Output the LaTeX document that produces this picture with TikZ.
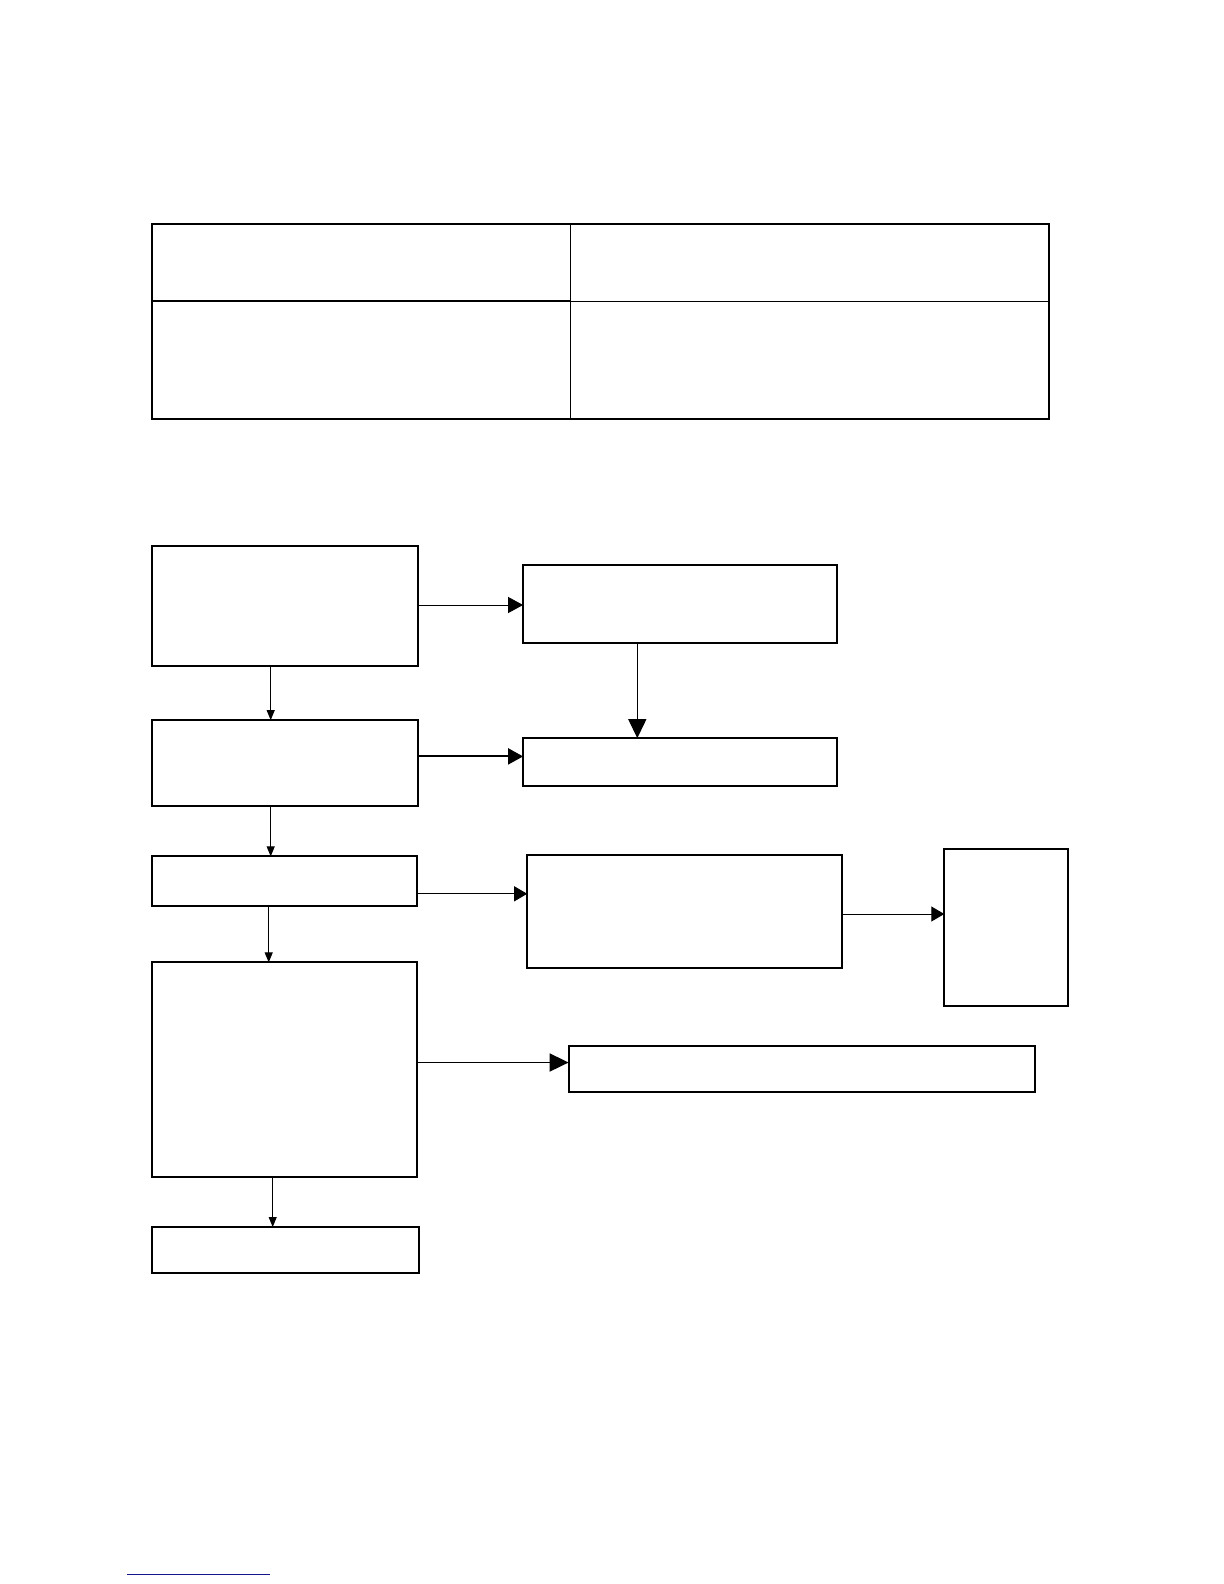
\documentclass[tikz,border=0pt]{standalone}
\usetikzlibrary{arrows.meta}
\definecolor{linkblue}{RGB}{20,20,140}
\tikzset{
  box/.style={draw=black, line width=1pt, rectangle, inner sep=0pt, outer sep=0pt, anchor=north west},
  thinarr/.style={line width=0.5pt, -{Triangle[length=5pt,width=4pt]}},
  midarr/.style={line width=0.5pt, -{Triangle[length=7.5pt,width=8pt]}},
  bigarr/.style={line width=0.9pt, -{Triangle[length=9.5pt,width=9pt]}},
  tline/.style={line width=1pt},
  tthin/.style={line width=0.5pt}
}
\newcommand{\mkbox}[5]{\node[box, minimum width={(#4-#2)*0.5pt}, minimum height={(#5-#3)*0.5pt}] (#1) at (#2,#3) {};}
\begin{document}
\begin{tikzpicture}[x=0.5pt,y=-0.5pt]
\fill[white] (0,0) rectangle (1224,1584);
\useasboundingbox (0,0) rectangle (1224,1584);
% table
\draw[tline] (151.5,224.2) rectangle (1049.3,419.1);
\draw[tthin] (570.6,224.2) -- (570.6,419.1);
\draw[line width=1.2pt] (151.5,301) -- (570.6,301);
\draw[tthin] (570.6,301) -- (1049.3,301);
% flowchart boxes
\mkbox{A}{151.5}{546.4}{418.1}{665.5}
\mkbox{B}{523.1}{564.5}{837.2}{643.3}
\mkbox{C}{151.5}{720.1}{418.1}{805.9}
\mkbox{D}{523.1}{738.2}{837.2}{785.7}
\mkbox{E}{151.5}{856.4}{417.1}{905.9}
\mkbox{F}{527.2}{855.4}{842.3}{967.5}
\mkbox{G}{944.3}{849.3}{1067.5}{1005.9}
\mkbox{H}{151.5}{962.4}{417.1}{1176.5}
\mkbox{I}{568.6}{1045.5}{1035.2}{1091.7}
\mkbox{J}{151.5}{1227}{419.1}{1272.5}
% guide coordinates
\coordinate (ab) at (0,605);
\coordinate (ac) at (270.7,0);
\coordinate (bd) at (637.3,0);
\coordinate (cd) at (0,756.4);
\coordinate (ce) at (270.7,0);
\coordinate (ef) at (0,893.8);
\coordinate (eh) at (268.7,0);
\coordinate (fg) at (0,914);
\coordinate (hi) at (0,1062.5);
\coordinate (hj) at (272.7,0);
% connectors
\draw[midarr] (A.east |- ab) -- (B.west |- ab);
\draw[thinarr] (A.south -| ac) -- (C.north -| ac);
\draw[bigarr, line width=0.6pt] (B.south -| bd) -- (D.north -| bd);
\draw[midarr, line width=1pt] (C.east |- cd) -- (D.west |- cd);
\draw[thinarr] (C.south -| ce) -- (E.north -| ce);
\draw[midarr, -{Triangle[length=6.5pt,width=7.5pt]}] (E.east |- ef) -- (F.west |- ef);
\draw[thinarr] (E.south -| eh) -- (H.north -| eh);
\draw[midarr, -{Triangle[length=6.5pt,width=7.5pt]}] (F.east |- fg) -- (G.west |- fg);
\draw[bigarr] (H.east |- hi) -- (I.west |- hi);
\draw[thinarr] (H.south -| hj) -- (J.north -| hj);
% link underline
\draw[linkblue, line width=0.8pt] (127,1574.5) -- (270,1574.5);
\end{tikzpicture}
\end{document}
